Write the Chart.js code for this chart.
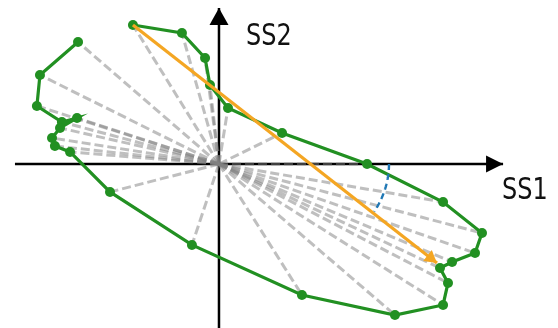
<!DOCTYPE html>
<html>
<head>
<meta charset="utf-8">
<script src="https://cdn.jsdelivr.net/npm/chart.js@4/dist/chart.umd.min.js"></script>
<style>
  html, body { margin: 0; padding: 0; background: #fff; }
  #wrap { width: 558px; height: 328px; }
</style>
</head>
<body>
<div id="wrap"><canvas id="c" width="558" height="328"></canvas></div>
<script>
// Trajectory in the (SS1, SS2) plane, in drawing order
const ss1 = [-0.829, -1.053, -1.071, -0.924, -0.835, -0.935, -0.982, -0.965, -0.876,
             -0.641, -0.159, 0.488, 1.035, 1.318, 1.347, 1.300, 1.371, 1.506, 1.547,
             1.318, 0.871, 0.371, 0.053, -0.053, -0.082, -0.218, -0.506];
const ss2 = [1.043, 0.761, 0.496, 0.359, 0.393, 0.308, 0.222, 0.154, 0.103,
             -0.239, -0.692, -1.120, -1.291, -1.205, -1.017, -0.889, -0.838, -0.761, -0.590,
             -0.325, 0.000, 0.265, 0.479, 0.675, 0.906, 1.120, 1.188];

// Principal direction arrow (start, end)
const arrowStart = [-0.506, 1.188];
const arrowEnd = [1.282, -0.846];

// Angle marker between SS1 axis and the arrow
const arcRadius = 1.0;
const arcEndDeg = -24;

// Axis extents and names
const axisX = [-1.2, 1.671];
const axisY = [-1.42, 1.333];
const axisNames = ['SS1', 'SS2'];

const GREEN = '#229022';
const ORANGE = '#f4a623';
const BLUE = '#1f77b4';

const pts = ss1.map((x, i) => ({ x, y: ss2[i] }));

// Dashed spokes from the origin to every point
const spokes = pts.map(p => ({
  data: [{ x: 0, y: 0 }, p],
  showLine: true,
  borderColor: 'rgba(128,128,128,0.5)',
  borderWidth: 3,
  borderDash: [9, 4],
  pointRadius: 0,
  order: 40
}));

const arcPts = [];
for (let k = 0; k <= 24; k++) {
  const a = (arcEndDeg * k / 24) * Math.PI / 180;
  arcPts.push({ x: arcRadius * Math.cos(a), y: arcRadius * Math.sin(a) });
}

const datasets = [
  {
    data: [{ x: axisX[0], y: 0 }, { x: axisX[1], y: 0 }],
    showLine: true, borderColor: '#000', borderWidth: 2.5, pointRadius: 0, order: 50,
    head: { length: 17, width: 8.5 }
  },
  {
    data: [{ x: 0, y: axisY[0] }, { x: 0, y: axisY[1] }],
    showLine: true, borderColor: '#000', borderWidth: 2.5, pointRadius: 0, order: 50,
    head: { length: 17, width: 9.5 }
  },
  ...spokes,
  {
    data: pts,
    showLine: true,
    borderColor: GREEN,
    backgroundColor: GREEN,
    borderWidth: 3.2,
    pointRadius: 5,
    pointBorderWidth: 0,
    pointBackgroundColor: GREEN,
    order: 30
  },
  {
    data: [{ x: arrowStart[0], y: arrowStart[1] }, { x: arrowEnd[0], y: arrowEnd[1] }],
    showLine: true, borderColor: ORANGE, borderWidth: 3.2, pointRadius: 0, order: 20,
    head: { length: 12, width: 7 }
  },
  {
    data: arcPts,
    showLine: true, borderColor: BLUE, borderWidth: 2.4, borderDash: [6, 4],
    pointRadius: 0, order: 10
  }
];

// Filled arrowheads at the end of flagged lines
const arrowHeads = {
  id: 'arrowHeads',
  afterDatasetsDraw(chart) {
    const ctx = chart.ctx;
    chart.data.datasets.forEach((ds, i) => {
      if (!ds.head) return;
      const el = chart.getDatasetMeta(i).data;
      const a = el[el.length - 2], b = el[el.length - 1];
      const ang = Math.atan2(b.y - a.y, b.x - a.x);
      ctx.save();
      ctx.translate(b.x, b.y);
      ctx.rotate(ang);
      ctx.beginPath();
      ctx.moveTo(0, 0);
      ctx.lineTo(-ds.head.length, ds.head.width);
      ctx.lineTo(-ds.head.length, -ds.head.width);
      ctx.closePath();
      ctx.fillStyle = ds.borderColor;
      ctx.fill();
      ctx.restore();
    });
  }
};

// Axis names beside the arrow tips
const axisTitles = {
  id: 'axisTitles',
  afterDraw(chart, args, opts) {
    const ctx = chart.ctx;
    const sx = chart.scales.x, sy = chart.scales.y;
    ctx.save();
    ctx.fillStyle = '#111';
    ctx.font = '30px "DejaVu Sans"';
    ctx.textBaseline = 'alphabetic';
    opts.items.forEach(it => {
      const px = sx.getPixelForValue(it.x), py = sy.getPixelForValue(it.y);
      ctx.save();
      ctx.translate(px, py);
      ctx.scale(0.8, 1);
      ctx.fillText(it.text, 0, 0);
      ctx.restore();
    });
    ctx.restore();
  }
};

new Chart(document.getElementById('c'), {
  type: 'scatter',
  data: { datasets },
  options: {
    responsive: false,
    animation: false,
    devicePixelRatio: 1,
    layout: { padding: 0, autoPadding: false },
    scales: {
      x: { display: false, min: -1.288, max: 1.994 },
      y: { display: false, min: -1.402, max: 1.402 }
    },
    plugins: {
      legend: { display: false },
      tooltip: { enabled: false },
      axisTitles: {
        items: [
          { text: axisNames[0], x: 1.665, y: -0.30 },
          { text: axisNames[1], x: 0.159, y: 1.017 }
        ]
      }
    }
  },
  plugins: [arrowHeads, axisTitles]
});
</script>
</body>
</html>
